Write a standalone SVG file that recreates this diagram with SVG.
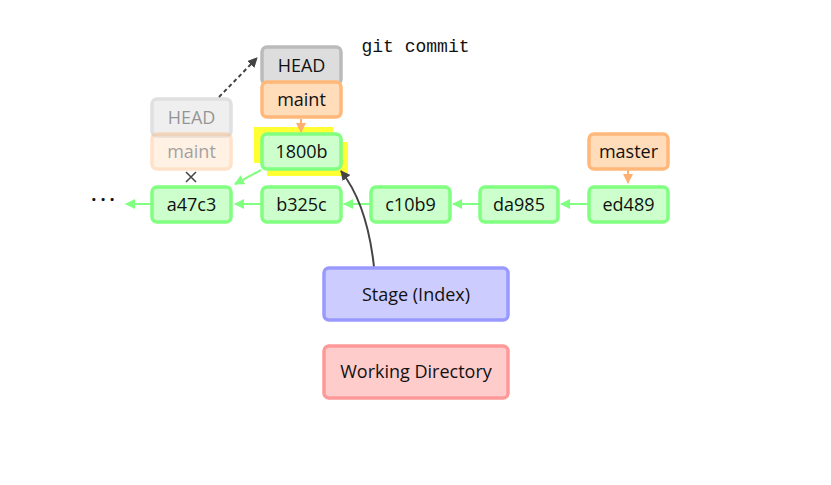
<svg xmlns="http://www.w3.org/2000/svg" width="831" height="485" viewBox="0 0 831 485">
<defs>
<style>
text{font-family:"Open Sans","DejaVu Sans",sans-serif;font-size:18px;text-anchor:middle;fill:#111}
.c rect{fill:#ccffcc;stroke:#80ff80;stroke-width:3.5}
.b rect{fill:#ffddbb;stroke:#ffb87a;stroke-width:3.5}
.h rect{fill:#dddddd;stroke:#bbbbbb;stroke-width:3.5}
.g{stroke:#80ff80;stroke-width:2;fill:none}
.o{stroke:#ffb070;stroke-width:2;fill:none}
</style>
<marker id="ag" viewBox="0 0 10 10" refX="9" refY="5" markerWidth="5" markerHeight="5" orient="auto"><path d="M0,0 L10,5 L0,10 z" fill="#80ff80"/></marker>
<marker id="ao" viewBox="0 0 10 10" refX="9" refY="5" markerWidth="5" markerHeight="5" orient="auto"><path d="M0,0 L10,5 L0,10 z" fill="#ffb070"/></marker>
<marker id="ad" viewBox="0 0 10 10" refX="9" refY="5" markerWidth="5" markerHeight="5" orient="auto"><path d="M0,0 L10,5 L0,10 z" fill="#444"/></marker>
</defs>
<rect width="831" height="485" fill="#fff"/>
<text x="415.5" y="52" style="font-family:'Liberation Mono','DejaVu Sans Mono',monospace;font-size:18px">git commit</text>
<g id="old-head" opacity="0.45">
<g class="h"><rect x="152" y="99" width="79" height="37" rx="5"/></g>
<text x="191.5" y="124" fill="#555">HEAD</text>
</g>
<g id="old-maint" opacity="0.4">
<g class="b"><rect x="152" y="134" width="79" height="35" rx="5"/></g>
<text x="191.5" y="158" fill="#555">maint</text>
</g>
<g id="highlight">
<rect x="254" y="127" width="79" height="36" fill="#ffff33"/>
<rect x="267" y="142" width="81" height="34" fill="#ffff33"/>
</g>
<g id="connectors">
<path class="g" d="M151,204 L126,204" marker-end="url(#ag)"/>
<path class="g" d="M261,204 L235,204" marker-end="url(#ag)"/>
<path class="g" d="M370,204 L344,204" marker-end="url(#ag)"/>
<path class="g" d="M479,204 L453,204" marker-end="url(#ag)"/>
<path class="g" d="M588,204 L561,204" marker-end="url(#ag)"/>
<path class="g" d="M261,170 L235,184" marker-end="url(#ag)"/>
<path class="o" d="M301,119 L301,132" marker-end="url(#ao)"/>
<path class="o" d="M628,170 L628,183" marker-end="url(#ao)"/>
<path d="M219,97 L257,58" stroke="#444" stroke-width="2" stroke-dasharray="4,3" fill="none" marker-end="url(#ad)"/>
<path d="M374,267 C370,230 360,195 341,171" stroke="#444" stroke-width="2" fill="none" marker-end="url(#ad)"/>
<path d="M186,172 L196,182 M196,172 L186,182" stroke="#444" stroke-width="1.5"/>
</g>
<text x="105" y="206" style="font-weight:bold;letter-spacing:4px">···</text>
<g id="a47c3" class="c"><rect x="152" y="187" width="79" height="35" rx="5"/><text x="191.5" y="211">a47c3</text></g>
<g id="b325c" class="c"><rect x="262" y="187" width="79" height="35" rx="5"/><text x="301.5" y="211">b325c</text></g>
<g id="c10b9" class="c"><rect x="371" y="187" width="79" height="35" rx="5"/><text x="410.5" y="211">c10b9</text></g>
<g id="da985" class="c"><rect x="480" y="187" width="78" height="35" rx="5"/><text x="519" y="211">da985</text></g>
<g id="ed489" class="c"><rect x="589" y="187" width="79" height="35" rx="5"/><text x="628.5" y="211">ed489</text></g>
<g id="c1800b" class="c"><rect x="262" y="134" width="79" height="35" rx="5"/><text x="301.5" y="158">1800b</text></g>
<g id="head" class="h"><rect x="262" y="47" width="79" height="37" rx="5"/><text x="301.5" y="72">HEAD</text></g>
<g id="maint" class="b"><rect x="262" y="82" width="79" height="35" rx="5"/><text x="301.5" y="106">maint</text></g>
<g id="master" class="b"><rect x="589" y="134" width="79" height="35" rx="5"/><text x="628.5" y="158">master</text></g>
<g id="stage"><rect x="324" y="268" width="184" height="52" rx="5" fill="#ccccff" stroke="#9999ff" stroke-width="3.5"/><text x="416" y="301">Stage (Index)</text></g>
<g id="wd"><rect x="324" y="346" width="184" height="52" rx="5" fill="#ffcccc" stroke="#ff9999" stroke-width="3.5"/><text x="416" y="378">Working Directory</text></g>
</svg>
